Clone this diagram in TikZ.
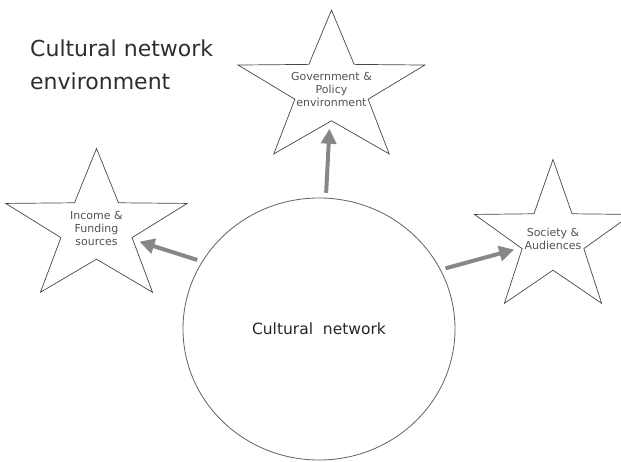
\documentclass[tikz,border=0pt]{standalone}
\usepackage{fontspec}
\setmainfont{DejaVu Sans}
\usetikzlibrary{shapes.geometric,arrows.meta}

\begin{document}
\begin{tikzpicture}[x=1pt,y=-1pt]
    \tikzstyle{starshape}=[star,star points=5,star point ratio=2.55,draw=black!72,line width=0.7pt,minimum size=159pt,inner sep=0pt,outer sep=0pt,transform shape]
    \tikzstyle{starlabel}=[align=center,text=black!68,font=\fontsize{11}{13}\selectfont,inner sep=0pt]
    \tikzstyle{flow}=[line width=4pt,draw=black!47,fill=black!47,-{Triangle[length=15pt,width=15pt]},shorten <=5pt,shorten >=7pt]
    \useasboundingbox (0,0) rectangle (621,461);

    \node[anchor=north west,inner sep=0pt,align=left,text=black!82,font=\fontsize{22}{33}\selectfont] (title) at (30,40) {Cultural network\\environment};

    \node[ellipse,draw=black!62,line width=0.8pt,minimum width=272pt,minimum height=262pt,inner sep=0pt,text=black!85,font=\fontsize{15.5}{18}\selectfont] (net) at (319,329) {Cultural\ \ network};

    % the three stars, stretched sideways
    \begin{scope}[shift={(331.5,89.6)},xscale=1.235]
        \node[starshape] (govstar) at (0,0) {};
    \end{scope}
    \begin{scope}[shift={(96.5,228)},xscale=1.2]
        \node[starshape] (incstar) at (0,0) {};
    \end{scope}
    \begin{scope}[shift={(553,239)},xscale=1.04]
        \node[starshape] (socstar) at (0,0) {};
    \end{scope}

    \node[starlabel] (gov) at (govstar.center) {Government \&\\Policy\\environment};
    \node[starlabel] (inc) at (incstar.center) {Income \&\\Funding\\sources};
    \node[starlabel] (soc) at (socstar.center) {Society \&\\Audiences};

    \draw[flow] (net.87) -- (govstar);
    \draw[flow] (net.150) -- (incstar);
    \draw[flow] (net.26) -- (socstar);

\end{tikzpicture}
\end{document}
